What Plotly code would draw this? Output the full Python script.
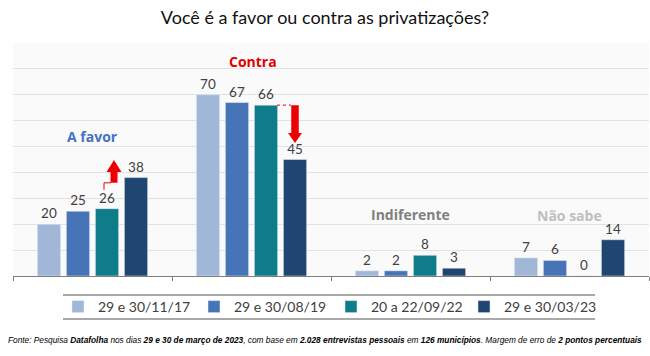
import plotly.graph_objects as go

categories = ["A favor", "Contra", "Indiferente", "Não sabe"]
series_names = ["29 e 30/11/17", "29 e 30/08/19", "20 a 22/09/22", "29 e 30/03/23"]
v_2017 = [20, 70, 2, 7]
v_2019 = [25, 67, 2, 6]
v_2022 = [26, 66, 8, 0]
v_2023 = [38, 45, 3, 14]
series_values = [v_2017, v_2019, v_2022, v_2023]
colors = ["#A0B7D7", "#4674B6", "#0E7C89", "#1F4571"]

W, H = 650, 356
L, R, T, B = 13, 1, 43, 80
plot_w = W - L - R
plot_h = H - T - B
YMAX = 90
px_cat = plot_w / len(categories)
px_unit = plot_h / YMAX

legend_ids = ["legend", "legend2", "legend3", "legend4"]
legend_x_px = [58, 194, 331, 464]

fig = go.Figure()
for name, vals, col, lid in zip(series_names, series_values, colors, legend_ids):
    fig.add_trace(go.Bar(
        x=categories, y=vals, name=name, marker_color=col, legend=lid,
        text=[str(v) for v in vals], textposition="outside",
        textfont=dict(family="Lato", size=13.5, color="#404040"),
        cliponaxis=False,
    ))

def dx(px):
    return px / px_cat

def dy(px):
    return px / px_unit

def arrow_path(xc, y_tail, y_tip, shaft_px, head_w_px, head_h_px):
    sgn = 1 if y_tip > y_tail else -1
    hs = dx(shaft_px) / 2
    hh = dx(head_w_px) / 2
    yb = y_tip - sgn * dy(head_h_px)
    pts = [(xc - hs, y_tail), (xc - hs, yb), (xc - hh, yb), (xc, y_tip),
           (xc + hh, yb), (xc + hs, yb), (xc + hs, y_tail)]
    return "M " + " L ".join(f"{x},{y}" for x, y in pts) + " Z"

red = "#EE0000"
# up arrow (A favor)
up_x = 0 + dx(21.5)
up_tail = 36.0
fig.add_shape(type="path", xref="x", yref="y",
              path=arrow_path(up_x, up_tail, 44.8, 7, 15, 12),
              fillcolor=red, line=dict(width=0))
fig.add_shape(type="path", xref="x", yref="y",
              path=(f"M {up_x - dx(3)},{up_tail} L {up_x - dx(10)},{up_tail} "
                    f"L {up_x - dx(10)},{up_tail - dy(7)}"),
              line=dict(color=red, width=1))
# down arrow (Contra)
dn_x = 1 + dx(43.5)
fig.add_shape(type="path", xref="x", yref="y",
              path=arrow_path(dn_x, v_2022[1], 51.4, 7.5, 14, 10),
              fillcolor=red, line=dict(width=0))
fig.add_shape(type="line", xref="x", yref="y",
              x0=1 + dx(25.5), x1=dn_x - dx(4), y0=v_2022[1], y1=v_2022[1],
              line=dict(color=red, width=1, dash="dot"))

# group labels
group_labels = [
    ("A favor", 0, 53.7, "#4472C4", 14),
    ("Contra", 1 + dx(1.5), 82.7, "#E00000", 14),
    ("Indiferente", 2, 23.6, "#7F7F7F", 14),
    ("Não sabe", 3, 23.2, "#BFBFBF", 14),
]
for txt, x, y, c, s in group_labels:
    fig.add_annotation(x=x, y=y, xref="x", yref="y", text=f"<b>{txt}</b>",
                       showarrow=False, font=dict(family="Open Sans", size=s, color=c))

# legend frame lines
for ypx in (295, 319):
    yp = (H - B - ypx) / plot_h
    fig.add_shape(type="line", xref="paper", yref="paper",
                  x0=(63 - L) / plot_w, x1=(595 - L) / plot_w, y0=yp, y1=yp,
                  line=dict(color="#8C8C8C", width=1.5))

footer = ("<i>Fonte: Pesquisa <b>Datafolha</b> nos dias <b>29 e 30 de março de 2023</b>, "
          "com base em <b>2.028 entrevistas pessoais</b> em <b>126 municípios</b>. "
          "Margem de erro de <b>2 pontos percentuais</b></i>")
fig.add_annotation(x=(325 - L) / plot_w, y=(H - B - 340) / plot_h, xref="paper", yref="paper",
                   text=footer, showarrow=False, xanchor="center", yanchor="middle",
                   font=dict(family="Liberation Sans", size=8.3, color="#000000"))

legend_common = dict(orientation="h", xanchor="left",
                     y=(H - B - 307) / plot_h, yanchor="middle",
                     font=dict(family="Lato", size=14, color="#404040"),
                     itemwidth=30, bgcolor="rgba(0,0,0,0)")
legends = {lid: dict(legend_common, x=(xp - L) / plot_w)
           for lid, xp in zip(legend_ids, legend_x_px)}

fig.update_layout(
    width=W, height=H,
    margin=dict(l=L, r=R, t=T, b=B, autoexpand=False),
    paper_bgcolor="#FFFFFF", plot_bgcolor="#FAFAFA",
    title=dict(text="Você é a favor ou contra as privatizações?", x=0.5, xanchor="center",
               y=1 - 18 / H, yanchor="middle",
               font=dict(family="Lato", size=18, color="#111111")),
    barmode="group", bargap=0.27, bargroupgap=0.2,
    showlegend=True,
    xaxis=dict(showticklabels=False, showline=True, linecolor="#7F7F7F", linewidth=1,
               ticks="outside", tickson="boundaries", ticklen=4, tickcolor="#7F7F7F",
               showgrid=False, fixedrange=True),
    yaxis=dict(range=[0, YMAX], dtick=10, showticklabels=False, showgrid=True,
               gridcolor="#E2E2E2", gridwidth=1.2, zeroline=False, fixedrange=True),
    **legends,
)

fig.write_html("out.html", config={"displayModeBar": False},
               post_script="document.body.style.margin='0';")
